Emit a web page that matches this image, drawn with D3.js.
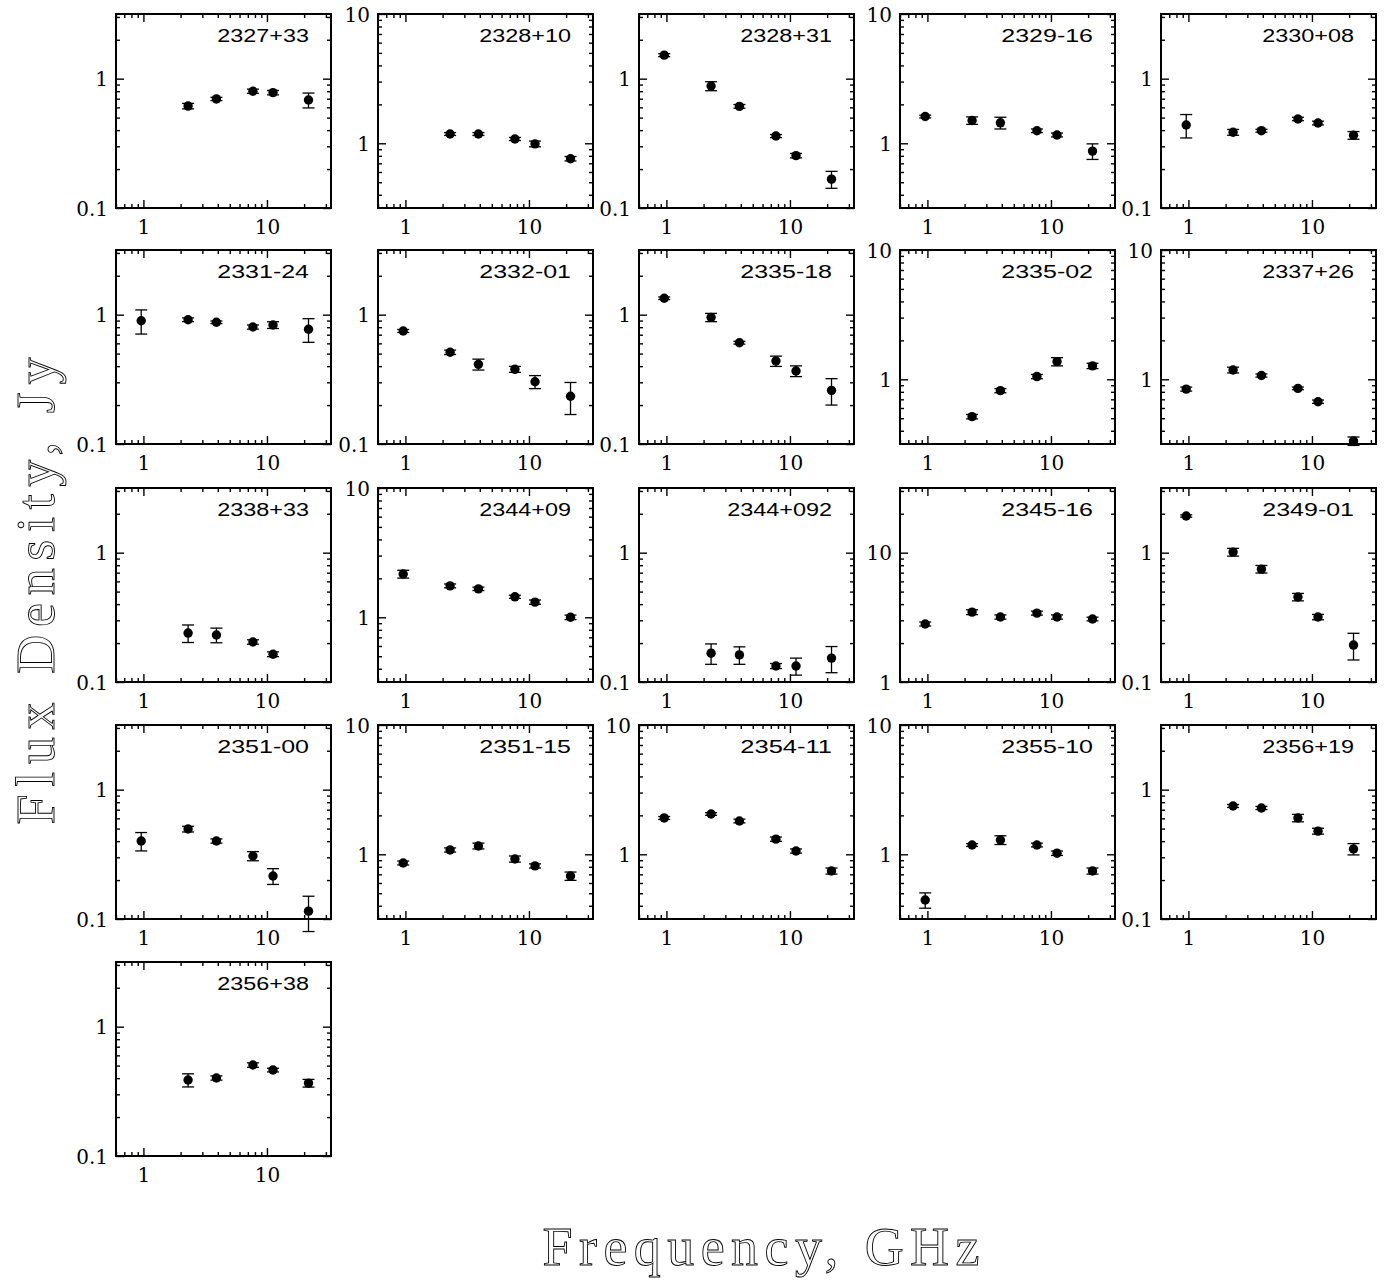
<!DOCTYPE html>
<html>
<head>
    <meta charset="utf-8">
    <title>Spectra</title>
    <script type="text/javascript" src="https://cdn.jsdelivr.net/npm/d3@7"></script>
    <style>
        body { margin: 0; background: #fff; }
    </style>
</head>
<body>
<script type="text/javascript">
    // observing frequencies, GHz
    var freqs = [0.96, 2.3, 3.9, 7.7, 11.2, 21.7];

    var sources = ["2327+33", "2328+10", "2328+31", "2329-16", "2330+08",
                   "2331-24", "2332-01", "2335-18", "2335-02", "2337+26",
                   "2338+33", "2344+09", "2344+092", "2345-16", "2349-01",
                   "2351-00", "2351-15", "2354-11", "2355-10", "2356+19",
                   "2356+38"];

    // lower bound of each panel's y axis (each spans 1.5 decades)
    var yLow = [0.1, 0.316, 0.1, 0.316, 0.1,
                0.1, 0.1, 0.1, 0.316, 0.316,
                0.1, 0.316, 0.1, 1, 0.1,
                0.1, 0.316, 0.316, 0.316, 0.1,
                0.1];

    // flux density, Jy (null = not measured)
    var flux = [
        [null, 0.614, 0.697, 0.80, 0.78, 0.684],
        [null, 1.18, 1.18, 1.08, 0.99, 0.76],
        [1.52, 0.877, 0.611, 0.36, 0.254, 0.167],
        [1.61, 1.50, 1.44, 1.25, 1.16, 0.87],
        [0.438, 0.385, 0.396, 0.488, 0.454, 0.365],
        [0.898, 0.914, 0.873, 0.803, 0.832, 0.771],
        [0.748, 0.512, 0.413, 0.378, 0.303, 0.234],
        [1.34, 0.953, 0.607, 0.438, 0.367, 0.26],
        [null, 0.514, 0.817, 1.05, 1.37, 1.27],
        [0.84, 1.18, 1.07, 0.851, 0.671, 0.333],
        [null, 0.239, 0.231, 0.204, 0.164, null],
        [2.16, 1.75, 1.66, 1.44, 1.31, 1.0],
        [null, 0.167, 0.162, 0.133, 0.133, 0.153],
        [2.81, 3.47, 3.18, 3.41, 3.18, 3.07],
        [1.92, 1.01, 0.746, 0.454, 0.318, 0.193],
        [0.401, 0.496, 0.401, 0.307, 0.215, 0.115],
        [0.857, 1.08, 1.16, 0.92, 0.813, 0.679],
        [1.91, 2.05, 1.81, 1.31, 1.06, 0.743],
        [0.443, 1.18, 1.29, 1.18, 1.02, 0.743],
        [null, 0.748, 0.722, 0.604, 0.478, 0.348],
        [null, 0.387, 0.401, 0.505, 0.462, 0.366]
    ];

    // 1-sigma errors, Jy
    var fluxErr = [
        [null, 0.03, 0.02, 0.03, 0.03, 0.09],
        [null, 0.03, 0.03, 0.03, 0.05, 0.03],
        [0.04, 0.07, 0.02, 0.01, 0.01, 0.025],
        [0.04, 0.10, 0.15, 0.04, 0.04, 0.12],
        [0.09, 0.02, 0.01, 0.015, 0.015, 0.025],
        [0.19, 0.03, 0.02, 0.03, 0.05, 0.16],
        [0.02, 0.02, 0.04, 0.02, 0.035, 0.065],
        [0.03, 0.07, 0.015, 0.04, 0.035, 0.06],
        [null, 0.02, 0.03, 0.04, 0.10, 0.06],
        [0.03, 0.06, 0.03, 0.02, 0.02, 0.025],
        [null, 0.037, 0.03, 0.008, 0.007, null],
        [0.15, 0.06, 0.05, 0.04, 0.05, 0.04],
        [null, 0.03, 0.025, 0.006, 0.02, 0.035],
        [0.1, 0.15, 0.12, 0.12, 0.12, 0.1],
        [0.04, 0.07, 0.05, 0.03, 0.015, 0.045],
        [0.065, 0.025, 0.015, 0.025, 0.03, 0.035],
        [0.03, 0.04, 0.06, 0.05, 0.03, 0.05],
        [0.05, 0.05, 0.06, 0.05, 0.04, 0.04],
        [0.06, 0.03, 0.1, 0.04, 0.04, 0.04],
        [null, 0.02, 0.02, 0.04, 0.025, 0.035],
        [null, 0.045, 0.015, 0.02, 0.015, 0.025]
    ];

    var width = 1386, height = 1281;
    var pw = 215, ph = 194;
    var colX = [116, 378, 639, 900, 1161];
    var rowY = [14, 250, 488, 725, 962];
    var tickFont = "DejaVu Serif, serif";

    var svg = d3.select("body").append("svg")
        .attr("width", width)
        .attr("height", height);

    function ticksIn(lo, hi) {
        var out = [];
        for (var e = -2; e <= 2; e++) {
            for (var m = 1; m < 10; m++) {
                var v = m * Math.pow(10, e);
                if (v >= lo * 0.99 && v <= hi * 1.01) out.push(v);
            }
        }
        return out;
    }

    function isDecade(v) {
        return Math.abs(Math.log10(v) - Math.round(Math.log10(v))) < 1e-6;
    }

    function fmt(v) {
        return v < 1 ? "0.1" : String(Math.round(v));
    }

    function drawPanel(i) {
        var g = svg.append("g")
            .attr("transform", "translate(" + colX[i % 5] + "," + rowY[Math.floor(i / 5)] + ")");

        var yHigh = yLow[i] * Math.pow(10, 1.5);
        var x = d3.scaleLog().domain([0.6, 33]).range([0, pw]);
        var y = d3.scaleLog().domain([yLow[i], yHigh]).range([ph, 0]);

        var xAll = ticksIn(0.6, 33);
        var yAll = ticksIn(yLow[i], yHigh);
        var xMaj = xAll.filter(isDecade), xMin = xAll.filter(function(v){ return !isDecade(v); });
        var yMaj = yAll.filter(isDecade), yMin = yAll.filter(function(v){ return !isDecade(v); });

        function axisSet(axisFn, scale, ticks, size, tx, ty, labels) {
            var a = axisFn(scale).tickValues(ticks).tickSizeInner(-size).tickSizeOuter(0)
                .tickFormat(labels ? fmt : "");
            var ax = g.append("g")
                .attr("transform", "translate(" + tx + "," + ty + ")")
                .call(a);
            ax.select(".domain").remove();
            ax.selectAll(".tick line").attr("stroke", "#000").attr("stroke-width", 1.4);
            return ax;
        }

        // major + minor ticks on all four sides
        var bx = axisSet(d3.axisBottom, x, xMaj, 8, 0, ph, true);
        axisSet(d3.axisBottom, x, xMin, 4, 0, ph, false);
        axisSet(d3.axisTop, x, xMaj, 8, 0, 0, false);
        axisSet(d3.axisTop, x, xMin, 4, 0, 0, false);
        var ly = axisSet(d3.axisLeft, y, yMaj, 8, 0, 0, true);
        axisSet(d3.axisLeft, y, yMin, 4, 0, 0, false);
        axisSet(d3.axisRight, y, yMaj, 8, pw, 0, false);
        axisSet(d3.axisRight, y, yMin, 4, pw, 0, false);

        bx.selectAll(".tick text")
            .attr("y", 12)
            .attr("dy", "0.71em")
            .style("font-family", tickFont)
            .style("font-size", "20px")
            .attr("fill", "#000");
        ly.selectAll(".tick text")
            .attr("x", -8)
            .attr("dy", "0.36em")
            .style("font-family", tickFont)
            .style("font-size", "20px")
            .attr("fill", "#000");

        g.append("rect")
            .attr("width", pw).attr("height", ph)
            .attr("fill", "none").attr("stroke", "#000").attr("stroke-width", 2);

        g.append("text")
            .attr("x", pw - 22).attr("y", 28)
            .attr("text-anchor", "end")
            .attr("textLength", sources[i].length * 13.1)
            .attr("lengthAdjust", "spacingAndGlyphs")
            .style("font-family", "Liberation Sans, Arial, sans-serif")
            .style("font-size", "18px")
            .text(sources[i]);

        var pts = freqs.map(function(f, k) {
            return { f: f, s: flux[i][k], e: fluxErr[i][k] };
        }).filter(function(d){ return d.s != null; });

        var eb = g.append("g").attr("stroke", "#000").attr("stroke-width", 1.3);
        pts.forEach(function(d) {
            var cx = x(d.f), y1 = y(d.s + d.e), y2 = y(Math.max(d.s - d.e, 1e-3));
            eb.append("line").attr("x1", cx).attr("x2", cx).attr("y1", y1).attr("y2", y2);
            eb.append("line").attr("x1", cx - 6).attr("x2", cx + 6).attr("y1", y1).attr("y2", y1);
            eb.append("line").attr("x1", cx - 6).attr("x2", cx + 6).attr("y1", y2).attr("y2", y2);
        });

        g.selectAll("circle.pt").data(pts).enter().append("circle")
            .attr("class", "pt")
            .attr("cx", function(d){ return x(d.f); })
            .attr("cy", function(d){ return y(d.s); })
            .attr("r", 4.7)
            .attr("fill", "#000");
    }

    for (var i = 0; i < sources.length; i++) drawPanel(i);

    svg.append("text")
        .attr("x", 761).attr("y", 1265)
        .attr("text-anchor", "middle")
        .attr("textLength", 437)
        .attr("lengthAdjust", "spacing")
        .style("font-family", "Liberation Serif, serif")
        .style("font-size", "54px")
        .attr("fill", "#fff").attr("stroke", "#000").attr("stroke-width", 0.9)
        .text("Frequency, GHz");

    svg.append("text")
        .attr("transform", "translate(54,591) rotate(-90)")
        .attr("text-anchor", "middle")
        .attr("textLength", 467)
        .attr("lengthAdjust", "spacing")
        .style("font-family", "Liberation Serif, serif")
        .style("font-size", "54px")
        .attr("fill", "#fff").attr("stroke", "#000").attr("stroke-width", 0.9)
        .text("Flux Density, Jy");
</script>
</body>
</html>
